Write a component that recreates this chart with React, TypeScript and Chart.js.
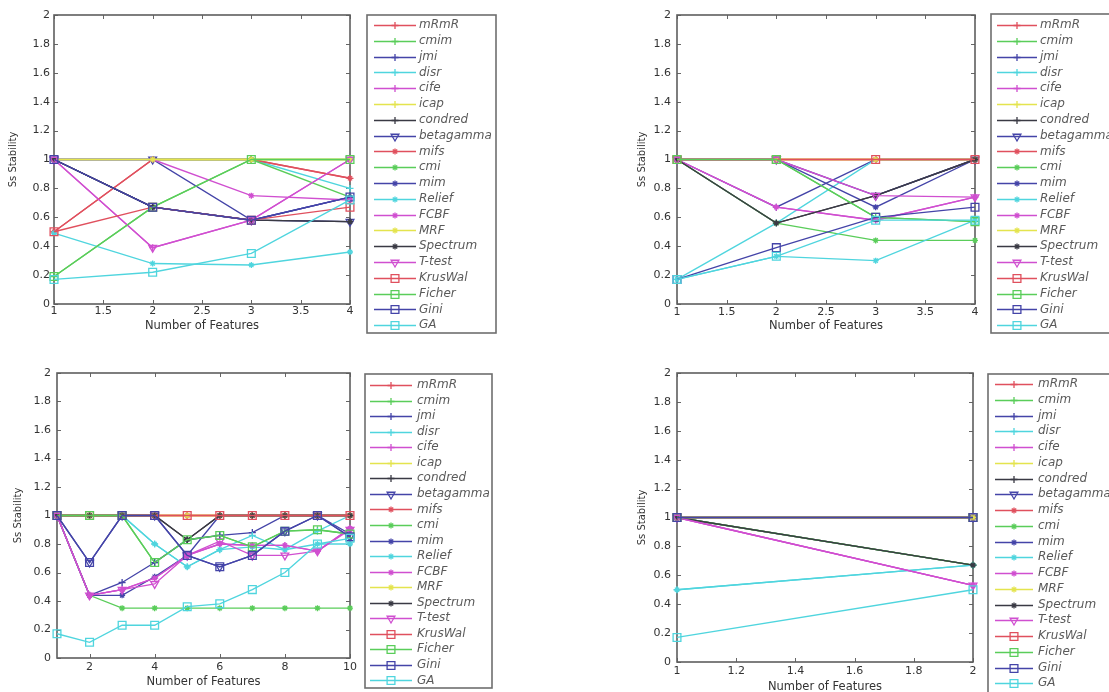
import React, { useEffect, useRef } from 'react';
import { Chart, registerables } from 'chart.js';

Chart.register(...registerables);

// ---------- data ----------
const METHODS = ['mRmR', 'cmim', 'jmi', 'disr', 'cife', 'icap', 'condred', 'betagamma', 'mifs', 'cmi',
  'mim', 'Relief', 'FCBF', 'MRF', 'Spectrum', 'T-test', 'KrusWal', 'Ficher', 'Gini', 'GA'];
const COLOR_KEYS = ['r', 'g', 'b', 'c', 'm', 'y', 'k', 'b', 'r', 'g', 'b', 'c', 'm', 'y', 'k', 'm', 'r', 'g', 'b', 'c'];
const MARKERS = ['+', '+', '+', '+', '+', '+', '+', 'v', '*', '*', '*', '*', '*', '*', '*', 'v', 's', 's', 's', 's'];

const Y_TICKS = [0, 0.2, 0.4, 0.6, 0.8, 1, 1.2, 1.4, 1.6, 1.8, 2];
const X_TICKS_TOP = [1, 1.5, 2, 2.5, 3, 3.5, 4];
const X_TICKS_BOTTOM_LEFT = [2, 4, 6, 8, 10];
const X_TICKS_BOTTOM_RIGHT = [1, 1.2, 1.4, 1.6, 1.8, 2];

const X_TOP_LEFT = [1, 2, 3, 4];
const X_TOP_RIGHT = [1, 2, 3, 4];
const X_BOTTOM_LEFT = [1, 2, 3, 4, 5, 6, 7, 8, 9, 10];
const X_BOTTOM_RIGHT = [1, 2];

// rows follow METHODS order
const TOP_LEFT_VALUES = [
  [0.5, 1.0, 1.0, 0.87],     // mRmR
  [0.19, 0.67, 1.0, 1.0],    // cmim
  [1.0, 0.67, 0.58, 0.74],   // jmi
  [1.0, 1.0, 1.0, 0.8],      // disr
  [1.0, 0.39, 0.58, 1.0],    // cife
  [1.0, 1.0, 1.0, 1.0],      // icap
  [1.0, 0.67, 0.58, 0.57],   // condred
  [1.0, 1.0, 0.58, 0.57],    // betagamma
  [0.5, 1.0, 1.0, 0.87],     // mifs
  [1.0, 1.0, 1.0, 0.74],     // cmi
  [1.0, 0.67, 0.58, 0.74],   // mim
  [0.49, 0.28, 0.27, 0.36],  // Relief
  [1.0, 1.0, 0.75, 0.72],    // FCBF
  [1.0, 1.0, 1.0, 1.0],      // MRF
  [1.0, 0.67, 0.58, 0.57],   // Spectrum
  [1.0, 0.39, 0.58, 1.0],    // T-test
  [0.5, 0.67, 0.58, 0.67],   // KrusWal
  [0.19, 0.67, 1.0, 1.0],    // Ficher
  [1.0, 0.67, 0.58, 0.74],   // Gini
  [0.17, 0.22, 0.35, 0.72],  // GA
];

const TOP_RIGHT_VALUES = [
  [1.0, 1.0, 1.0, 1.0],      // mRmR
  [1.0, 1.0, 0.6, 0.57],     // cmim
  [1.0, 0.67, 1.0, 1.0],     // jmi
  [0.17, 0.56, 1.0, 1.0],    // disr
  [1.0, 0.67, 0.58, 0.74],   // cife
  [1.0, 1.0, 1.0, 1.0],      // icap
  [1.0, 0.56, 0.75, 1.0],    // condred
  [1.0, 1.0, 0.75, 1.0],     // betagamma
  [1.0, 1.0, 1.0, 1.0],      // mifs
  [1.0, 0.56, 0.44, 0.44],   // cmi
  [1.0, 1.0, 0.67, 1.0],     // mim
  [0.17, 0.33, 0.3, 0.58],   // Relief
  [1.0, 0.67, 0.58, 0.74],   // FCBF
  [1.0, 1.0, 1.0, 1.0],      // MRF
  [1.0, 0.56, 0.75, 1.0],    // Spectrum
  [1.0, 1.0, 0.75, 0.74],    // T-test
  [1.0, 1.0, 1.0, 1.0],      // KrusWal
  [1.0, 1.0, 0.6, 0.57],     // Ficher
  [0.17, 0.39, 0.6, 0.67],   // Gini
  [0.17, 0.33, 0.58, 0.58],  // GA
];

const BOTTOM_LEFT_VALUES = [
  [1, 1, 1, 1, 1, 1, 1, 1, 1, 1],                                  // mRmR
  [1, 1, 1, 0.67, 0.83, 0.86, 0.78, 0.89, 0.9, 0.87],              // cmim
  [1, 0.44, 0.53, 0.67, 0.83, 0.86, 0.88, 1, 1, 0.87],             // jmi
  [1, 1, 1, 0.8, 0.64, 0.76, 0.86, 0.76, 0.89, 1],                 // disr
  [1, 0.44, 0.48, 0.56, 0.72, 0.8, 0.79, 0.79, 0.75, 0.91],        // cife
  [1, 1, 1, 1, 1, 1, 1, 1, 1, 1],                                  // icap
  [1, 1, 1, 1, 0.83, 1, 1, 1, 1, 1],                               // condred
  [1, 0.67, 1, 1, 0.72, 0.64, 0.72, 0.89, 1, 0.85],                // betagamma
  [1, 1, 1, 1, 1, 1, 1, 1, 1, 1],                                  // mifs
  [1, 0.44, 0.35, 0.35, 0.35, 0.35, 0.35, 0.35, 0.35, 0.35],       // cmi
  [1, 0.44, 0.44, 0.57, 0.72, 1, 1, 1, 1, 1],                      // mim
  [1, 1, 1, 0.8, 0.64, 0.76, 0.78, 0.76, 0.8, 0.8],                // Relief
  [1, 0.44, 0.48, 0.56, 0.72, 0.8, 0.79, 0.79, 0.75, 0.91],        // FCBF
  [1, 1, 1, 1, 1, 1, 1, 1, 1, 1],                                  // MRF
  [1, 1, 1, 1, 0.83, 1, 1, 1, 1, 1],                               // Spectrum
  [1, 0.44, 0.48, 0.52, 0.72, 0.82, 0.72, 0.72, 0.75, 0.9],        // T-test
  [1, 1, 1, 1, 1, 1, 1, 1, 1, 1],                                  // KrusWal
  [1, 1, 1, 0.67, 0.83, 0.86, 0.78, 0.89, 0.9, 0.87],              // Ficher
  [1, 0.67, 1, 1, 0.72, 0.64, 0.72, 0.89, 1, 0.85],                // Gini
  [0.17, 0.11, 0.23, 0.23, 0.36, 0.38, 0.48, 0.6, 0.8, 0.84],      // GA
];

const BOTTOM_RIGHT_VALUES = [
  [1, 1],       // mRmR
  [1, 0.67],    // cmim
  [1, 1],       // jmi
  [0.5, 0.67],  // disr
  [1, 0.53],    // cife
  [1, 1],       // icap
  [1, 0.67],    // condred
  [1, 1],       // betagamma
  [1, 1],       // mifs
  [1, 0.67],    // cmi
  [1, 1],       // mim
  [0.5, 0.67],  // Relief
  [1, 0.53],    // FCBF
  [1, 1],       // MRF
  [1, 0.67],    // Spectrum
  [1, 0.53],    // T-test
  [1, 1],       // KrusWal
  [1, 1],       // Ficher
  [1, 1],       // Gini
  [0.17, 0.5],  // GA
];

// ---------- styles ----------
const COLORS: Record<string, string> = {
  r: '#e0505e', g: '#5acd5a', b: '#4444a8', c: '#4fd5de', m: '#d04fd0', y: '#e4e44e', k: '#3a3a44',
};
const POINT_STYLE: Record<string, string> = { '+': 'cross', '*': 'star', v: 'triangle', s: 'rect' };
const POINT_RADIUS: Record<string, number> = { '+': 3.5, '*': 3, v: 4.5, s: 5.5 };
const FONT = '"DejaVu Sans", "Liberation Sans", Arial, sans-serif';

function drawMarker(ctx: CanvasRenderingContext2D, m: string, x: number, y: number, color: string) {
  ctx.save();
  ctx.strokeStyle = color;
  ctx.fillStyle = color;
  ctx.lineWidth = 1.3;
  ctx.beginPath();
  if (m === '+') {
    const r = 3.5;
    ctx.moveTo(x - r, y); ctx.lineTo(x + r, y);
    ctx.moveTo(x, y - r); ctx.lineTo(x, y + r);
    ctx.stroke();
  } else if (m === '*') {
    const r = 3;
    ctx.moveTo(x - r, y); ctx.lineTo(x + r, y);
    ctx.moveTo(x, y - r); ctx.lineTo(x, y + r);
    const d = r * 0.707;
    ctx.moveTo(x - d, y - d); ctx.lineTo(x + d, y + d);
    ctx.moveTo(x - d, y + d); ctx.lineTo(x + d, y - d);
    ctx.stroke();
  } else if (m === 'v') {
    const r = 4.5;
    ctx.moveTo(x, y + r);
    ctx.lineTo(x - r * 0.866, y - r * 0.5);
    ctx.lineTo(x + r * 0.866, y - r * 0.5);
    ctx.closePath();
    ctx.stroke();
  } else if (m === 's') {
    const h = 3.9;
    ctx.rect(x - h, y - h, 2 * h, 2 * h);
    ctx.stroke();
  }
  ctx.restore();
}

const matlabPlugin = {
  id: 'matlab',
  beforeDatasetsDraw(chart: any) {
    const { ctx, chartArea: a, scales } = chart;
    ctx.save();
    ctx.strokeStyle = '#666';
    ctx.lineWidth = 1;
    const tl = 4;
    ctx.beginPath();
    scales.x.ticks.forEach((t: any) => {
      const px = Math.round(scales.x.getPixelForValue(t.value)) + 0.5;
      ctx.moveTo(px, a.bottom); ctx.lineTo(px, a.bottom - tl);
      ctx.moveTo(px, a.top); ctx.lineTo(px, a.top + tl);
    });
    scales.y.ticks.forEach((t: any) => {
      const py = Math.round(scales.y.getPixelForValue(t.value)) + 0.5;
      ctx.moveTo(a.left, py); ctx.lineTo(a.left + tl, py);
      ctx.moveTo(a.right, py); ctx.lineTo(a.right - tl, py);
    });
    ctx.stroke();
    ctx.strokeStyle = '#5e5e5e';
    ctx.lineWidth = 1.6;
    ctx.strokeRect(a.left, a.top, a.right - a.left, a.bottom - a.top);
    ctx.restore();
  },
  afterDraw(chart: any, _args: any, opts: any) {
    const { ctx } = chart;
    if (!opts || opts.boxLeft === undefined) return;
    ctx.save();
    ctx.fillStyle = '#ffffff';
    ctx.fillRect(opts.boxLeft, opts.boxTop, opts.boxRight - opts.boxLeft, opts.boxBottom - opts.boxTop);
    ctx.strokeStyle = '#6e6e6e';
    ctx.lineWidth = 1.6;
    ctx.strokeRect(opts.boxLeft, opts.boxTop, opts.boxRight - opts.boxLeft, opts.boxBottom - opts.boxTop);
    ctx.font = 'italic 12px ' + FONT;
    ctx.textBaseline = 'middle';
    ctx.textAlign = 'left';
    chart.data.datasets.forEach((ds: any, i: number) => {
      const y = opts.firstY + i * opts.step;
      const color = ds.borderColor;
      ctx.strokeStyle = color;
      ctx.lineWidth = 1.3;
      ctx.beginPath();
      ctx.moveTo(opts.lineX0, Math.round(y) + 0.5);
      ctx.lineTo(opts.lineX1, Math.round(y) + 0.5);
      ctx.stroke();
      drawMarker(ctx, MARKERS[i], (opts.lineX0 + opts.lineX1) / 2, Math.round(y) + 0.5, color);
      ctx.fillStyle = '#5a5a5a';
      ctx.fillText(ds.label, opts.textX, y);
    });
    ctx.restore();
  },
};

type PanelCfg = {
  left: number; top: number; w: number; h: number;
  xs: number[]; values: number[][]; xMin: number; xMax: number; xTicks: number[];
  pad: { left: number; top: number; right: number; bottom: number };
  yW: number; xH: number; yTickPad: number; xTickPad: number; xTitlePad: number; yTitlePad: number;
  legend: any;
};

const PANELS: PanelCfg[] = [
  {
    left: 0, top: 0, w: 554, h: 346, xs: X_TOP_LEFT, values: TOP_LEFT_VALUES, xMin: 1, xMax: 4, xTicks: X_TICKS_TOP,
    pad: { left: 0, top: 15, right: 204, bottom: 10 }, yW: 54, xH: 32, yTickPad: 4, xTickPad: 1, xTitlePad: 3, yTitlePad: 7,
    legend: { boxLeft: 367, boxTop: 15, boxRight: 496, boxBottom: 333, firstY: 25, step: 15.8, lineX0: 374, lineX1: 416, textX: 419 },
  },
  {
    left: 554, top: 0, w: 555, h: 346, xs: X_TOP_RIGHT, values: TOP_RIGHT_VALUES, xMin: 1, xMax: 4, xTicks: X_TICKS_TOP,
    pad: { left: 75, top: 15, right: 134, bottom: 10 }, yW: 48, xH: 32, yTickPad: 6, xTickPad: 2, xTitlePad: 3, yTitlePad: 7,
    legend: { boxLeft: 437, boxTop: 14, boxRight: 575, boxBottom: 333, firstY: 25, step: 15.8, lineX0: 443, lineX1: 483, textX: 486 },
  },
  {
    left: 0, top: 346, w: 554, h: 352, xs: X_BOTTOM_LEFT, values: BOTTOM_LEFT_VALUES, xMin: 1, xMax: 10, xTicks: X_TICKS_BOTTOM_LEFT,
    pad: { left: 5, top: 27, right: 204, bottom: 8 }, yW: 52, xH: 32, yTickPad: 6, xTickPad: 3, xTitlePad: 1, yTitlePad: 7,
    legend: { boxLeft: 365, boxTop: 28, boxRight: 492, boxBottom: 342, firstY: 39, step: 15.55, lineX0: 370, lineX1: 412, textX: 417 },
  },
  {
    left: 554, top: 346, w: 555, h: 352, xs: X_BOTTOM_RIGHT, values: BOTTOM_RIGHT_VALUES, xMin: 1, xMax: 2, xTicks: X_TICKS_BOTTOM_RIGHT,
    pad: { left: 75, top: 27, right: 136, bottom: 4 }, yW: 48, xH: 32, yTickPad: 6, xTickPad: 3, xTitlePad: 0, yTitlePad: 7,
    legend: { boxLeft: 434, boxTop: 28, boxRight: 575, boxBottom: 360, firstY: 38, step: 15.75, lineX0: 441, lineX1: 479, textX: 484 },
  },
];

function fmt(v: number) {
  return String(Math.round(v * 10) / 10);
}

function Panel({ cfg }: { cfg: PanelCfg }) {
  const ref = useRef<HTMLCanvasElement>(null);
  useEffect(() => {
    const canvas = ref.current;
    if (!canvas) return;
    const datasets = METHODS.map((name, i) => {
      const color = COLORS[COLOR_KEYS[i]];
      const m = MARKERS[i];
      return {
        label: name,
        data: cfg.xs.map((x, j) => ({ x, y: cfg.values[i][j] })),
        borderColor: color,
        backgroundColor: 'rgba(0,0,0,0)',
        borderWidth: 1.35,
        pointStyle: POINT_STYLE[m],
        pointRotation: m === 'v' ? 180 : 0,
        pointRadius: POINT_RADIUS[m],
        pointBorderColor: color,
        pointBackgroundColor: 'rgba(0,0,0,0)',
        pointBorderWidth: 1.3,
        tension: 0,
        clip: false,
        order: METHODS.length - i,
      };
    });
    const chart = new Chart(canvas, {
      type: 'line',
      data: { datasets } as any,
      options: {
        responsive: false,
        animation: false,
        devicePixelRatio: 1,
        layout: { padding: cfg.pad },
        plugins: {
          legend: { display: false },
          tooltip: { enabled: false },
          matlab: cfg.legend,
        } as any,
        scales: {
          x: {
            type: 'linear',
            min: cfg.xMin,
            max: cfg.xMax,
            afterBuildTicks: (s: any) => { s.ticks = cfg.xTicks.map((v) => ({ value: v })); },
            afterFit: (s: any) => { s.height = cfg.xH; },
            grid: { display: false, drawTicks: false },
            border: { display: false },
            ticks: {
              padding: cfg.xTickPad,
              color: '#333',
              font: { family: FONT, size: 11 },
              maxRotation: 0,
              autoSkip: false,
              callback: (v: any) => fmt(Number(v)),
            },
            title: {
              display: true,
              text: 'Number of Features',
              color: '#333',
              font: { family: FONT, size: 11.5 },
              padding: { top: 0, bottom: cfg.xTitlePad },
            },
          },
          y: {
            type: 'linear',
            min: 0,
            max: 2,
            afterBuildTicks: (s: any) => { s.ticks = Y_TICKS.map((v) => ({ value: v })); },
            afterFit: (s: any) => { s.width = cfg.yW; },
            grid: { display: false, drawTicks: false },
            border: { display: false },
            ticks: {
              padding: cfg.yTickPad,
              color: '#333',
              font: { family: FONT, size: 11 },
              autoSkip: false,
              callback: (v: any) => fmt(Number(v)),
            },
            title: {
              display: true,
              text: 'Ss Stability',
              color: '#333',
              font: { family: FONT, size: 10 },
              padding: { top: cfg.yTitlePad, bottom: 0 },
            },
          },
        },
      } as any,
      plugins: [matlabPlugin as any],
    });
    return () => chart.destroy();
  }, [cfg]);
  return (
    <canvas
      ref={ref}
      width={cfg.w}
      height={cfg.h}
      style={{ position: 'absolute', left: cfg.left, top: cfg.top, width: cfg.w, height: cfg.h }}
    />
  );
}

export default function App() {
  return (
    <div
      style={{
        position: 'fixed', left: 0, top: 0, width: 1109, height: 692,
        overflow: 'hidden', background: '#ffffff',
      }}
    >
      {PANELS.map((cfg, i) => (
        <Panel key={i} cfg={cfg} />
      ))}
    </div>
  );
}
